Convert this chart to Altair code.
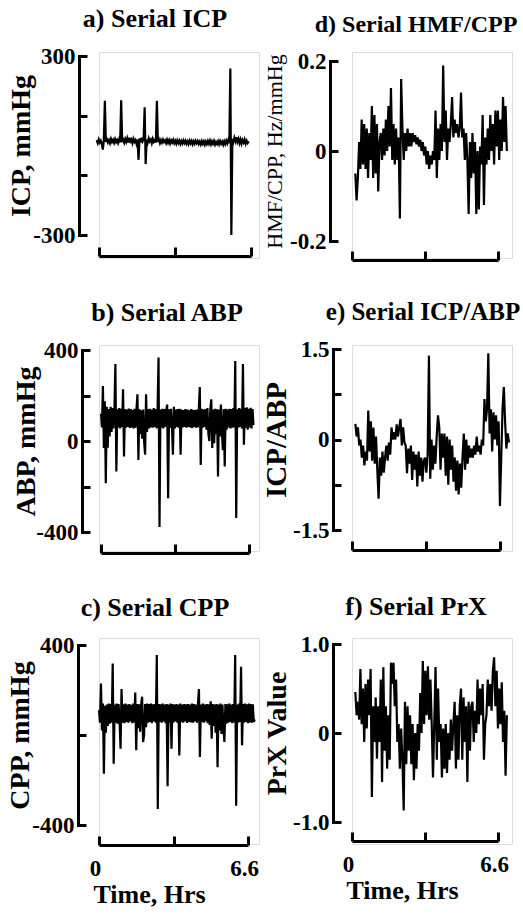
import altair as alt
import pandas as pd

# ---------------------------------------------------------------
# Recorded traces, one value per sample
# ---------------------------------------------------------------
icp_mmhg = [
    18, 8, 20, 10, 16, 6, -14, 18, 150, 12,
    20, 10, 18, 8, 22, 12, 19, 9, 21, 11,
    18, 8, 20, 10, 152, 12, 19, 9, 22, 12,
    24, 10, 26, 14, 20, 8, 22, 12, 18, 6,
    20, -48, 24, 10, 26, 14, 22, 128, -62, 20,
    10, 24, 14, 20, 8, 22, 12, 18, 10, 150,
    12, 20, 8, 18, 10, 20, 12, 17, 8, 19,
    9, 18, 7, 17, 10, 19, 8, 16, 6, 17,
    8, 16, 5, 15, 7, 17, 8, 16, 6, 14,
    5, 16, 7, 15, 4, 14, 6, 16, 8, 15,
    5, 13, 4, 15, 6, 14, 3, 13, 5, 15,
    6, 16, 4, 14, 6, 15, 3, 12, 5, 14,
    4, 15, 6, 13, 3, 14, 5, 16, 7, 18,
    8, 258, -300, 22, 12, 26, 14, 28, 12, 22,
    8, 20, 6, 18, 10, 20, 6, 16, 8, 14,
]

abp_mmhg = [
    120, 60, 242, -31, 175, -186, 150, -30, 140, 20,
    150, 40, 145, 55, 140, 338, -134, 140, 60, 145,
    55, 142, 62, 227, -68, 140, 58, 138, 62, 143,
    57, 140, 60, 136, 55, 142, 58, 140, 205, -83,
    140, 30, 135, 10, 138, -5, -60, 205, 40, 140,
    55, 142, 60, 138, 58, 145, 62, 140, 55, 140,
    367, -378, 138, 60, 142, 55, 140, 62, 136, 160,
    -252, 140, 58, 142, 60, -60, 150, 55, 138, 62,
    140, 58, 142, -60, 138, 60, 136, 62, 140, 58,
    138, 62, 135, 60, 140, 56, 137, 62, 136, 58,
    138, 60, 140, 237, -105, 142, 58, 138, 62, 140,
    50, 145, 30, 0, 140, 183, -31, 138, -10, 142,
    30, 140, -156, 138, 20, 160, 50, -40, 140, -112,
    142, 50, 138, 60, 142, 55, 140, 58, 145, 60,
    352, -338, 140, 58, 145, 62, 142, 55, 338, -16,
    145, 58, 148, 50, 142, 60, 146, 55, 140, 70,
]

cpp_mmhg = [
    110, 55, 229, 20, 140, -172, 130, 10, 135, 40,
    140, 50, 138, 55, 318, -128, 135, 55, 140, 50,
    138, 58, -61, 204, 55, 136, 52, 140, 58, 135,
    55, 138, 60, 134, 52, 140, 56, 189, -68, 138,
    30, 136, 15, 135, 170, -31, 0, 138, 35, 140,
    55, 137, 58, 140, 52, 136, 60, 138, 55, 355,
    -329, 138, 58, 136, 55, 140, 60, 135, 52, 138,
    -228, 136, 56, 140, -61, 138, 55, 135, 60, 138,
    55, 136, -91, 140, 58, 135, 55, 138, 60, 136,
    54, 138, 58, 135, 56, 140, 55, 137, 60, 135,
    55, 138, 204, -98, 136, 58, 140, 55, 135, 60,
    138, 52, 136, 45, 150, -16, 138, 40, 135, 10,
    138, -143, 136, 20, 140, 5, 135, 30, -31, 138,
    50, 136, 55, 140, 58, 135, 52, 138, 56, 355,
    -314, 136, 55, 140, 58, 303, -46, 138, 55, 140,
    58, 136, 52, 140, 56, 138, 55, 136, 58, 70,
]

hmf_cpp = [
    -0.05, -0.11, -0.06, 0.02, -0.04, 0.07, -0.03, 0.06, -0.04, 0.05,
    -0.06, 0.04, -0.02, 0.10, -0.06, 0.08, -0.05, 0.06, -0.09, 0.02,
    0.04, -0.02, 0.05, -0.01, 0.07, 0.00, 0.10, 0.01, 0.14, -0.02,
    0.06, -0.03, 0.05, -0.02, 0.03, -0.15, 0.16, 0.05, -0.02, 0.04,
    0.00, 0.05, 0.01, 0.04, 0.01, 0.04, 0.02, 0.035, 0.015, 0.03,
    0.01, 0.025, 0.00, 0.02, -0.01, 0.01, -0.03, 0.00, -0.04, -0.01,
    -0.03, 0.00, -0.02, 0.09, -0.06, 0.05, -0.02, 0.06, 0.00, 0.19,
    0.02, 0.09, -0.02, 0.05, 0.02, 0.06, 0.12, 0.03, 0.07, 0.04,
    0.06, 0.03, 0.05, 0.13, 0.03, 0.05, -0.02, 0.04, -0.02, -0.14,
    0.02, -0.06, 0.04, -0.05, 0.02, -0.14, 0.00, -0.13, 0.01, -0.03,
    0.08, -0.12, 0.03, -0.03, 0.05, -0.02, 0.08, 0.00, 0.06, -0.03,
    0.09, 0.01, 0.09, -0.02, 0.07, 0.00, 0.12, 0.02, 0.10, 0.00,
]

icp_abp = [
    0.26, 0.05, 0.20, -0.10, 0.00, -0.30, -0.10, -0.43, -0.20, -0.35,
    0.48, -0.20, 0.30, -0.35, 0.20, -0.40, 0.05, -0.50, -0.98, -0.30,
    -0.60, -0.20, -0.55, -0.30, -0.10, -0.35, -0.05, -0.25, 0.20, 0.00,
    0.12, 0.00, 0.25, 0.05, 0.20, 0.34, -0.10, 0.20, -0.05, -0.10,
    -0.56, -0.15, -0.40, -0.10, -0.67, -0.20, -0.50, -0.25, -0.78, -0.20,
    -0.60, -0.30, -0.70, -0.35, -0.30, -0.55, -0.25, 1.39, -0.65, 0.00,
    -0.50, -0.10, -0.40, 0.05, 0.40, 0.20, -0.50, 0.10, -0.30, 0.10,
    -0.60, 0.05, -0.75, 0.00, -0.50, -0.10, -0.70, -0.30, -0.85, -0.35,
    -0.91, -0.40, -0.80, -0.30, 0.10, -0.50, 0.00, -0.40, -0.10, -0.30,
    -0.15, -0.30, -0.10, -0.25, 0.05, -0.20, -0.10, -0.25, 0.00, -0.10,
    0.67, 0.30, 0.50, 1.43, 0.10, 0.50, -0.20, 0.45, 0.00, 0.40,
    -0.10, 0.30, -1.10, -0.30, 0.50, 0.87, 0.30, -0.15, 0.10, -0.05,
]

prx = [
    0.46, 0.20, 0.35, 0.15, 0.72, 0.10, 0.50, -0.10, 0.55, 0.05,
    0.60, 0.20, 0.72, -0.72, 0.30, -0.10, 0.40, -0.29, 0.30, -0.10,
    0.60, -0.55, 0.74, -0.20, 0.30, -0.40, 0.20, -0.30, 0.79, 0.55,
    0.79, 0.30, 0.60, -0.10, 0.10, -0.40, 0.05, -0.30, -0.87, 0.35,
    -0.35, 0.30, -0.20, 0.20, -0.35, 0.10, -0.53, 0.00, -0.40, 0.10,
    -0.20, 0.45, 0.00, 0.81, 0.10, 0.70, 0.20, 0.75, 0.15, 0.60,
    0.10, -0.50, 0.10, 0.74, -0.30, 0.50, -0.10, 0.10, -0.50, 0.05,
    -0.40, 0.10, -0.45, 0.00, -0.30, 0.15, -0.20, 0.10, 0.35, -0.40,
    0.20, -0.30, 0.30, 0.50, -0.30, 0.40, -0.10, 0.30, -0.55, 0.35,
    -0.20, 0.30, 0.35, -0.10, 0.25, 0.00, 0.60, 0.10, 0.50, 0.20,
    0.55, -0.30, 0.10, 0.20, 0.60, 0.30, 0.55, 0.25, 0.70, 0.85,
    0.30, 0.70, 0.05, 0.50, 0.10, 0.57, -0.10, 0.25, -0.48, 0.20,
]

# Recording window of each trace (hours): first and last sample
windows = {
    "icp": (-0.1, 6.5),
    "abp": (0.0, 6.8),
    "cpp": (0.0, 6.9),
    "hmf": (0.15, 7.0),
    "ratio": (0.15, 7.0),
    "prx": (0.15, 7.0),
}

x_ticks = [0, 3.3, 6.6]
x_tick_text = ["0", "", "6.6"]

FONT = "Liberation Serif"
CELL_W, CELL_H = 160, 206


def label_expr(values, texts):
    expr = "''"
    for v, t in zip(reversed(values), reversed(texts)):
        expr = f"datum.value == {v} ? '{t}' : ({expr})"
    return expr


def frame(values, window):
    t0, t1 = window
    n = len(values)
    return pd.DataFrame(
        {"t": [t0 + (t1 - t0) * i / (n - 1) for i in range(n)], "v": values}
    )


def panel(values, window, title, title_dx, y_title, y_domain, y_ticks,
          y_text, y_range, x_range, y_off, x_off, bottom, y_title_x,
          y_title_weight="bold", y_title_size=28, title_size=26):
    x_scale = alt.Scale(domain=[0, 6.6], range=x_range, nice=False, zero=False)
    y_scale = alt.Scale(domain=y_domain, range=y_range, nice=False, zero=False)

    x_axis = alt.Axis(
        values=x_ticks,
        labelExpr=label_expr(x_ticks, x_tick_text if bottom else ["", "", ""]),
        title="Time, Hrs" if bottom else None,
        titleFont=FONT, titleFontSize=26, titleFontWeight="bold",
        titleColor="black", titleX=x_range[0] + 50, titleY=36,
        titleAnchor="middle", titleBaseline="top",
        labelFont=FONT, labelFontSize=23, labelFontWeight="bold",
        labelColor="black", labelPadding=21, labelFlush=False,
        labelOverlap=False, labelOffset=-4,
        domain=True, domainColor="black", domainWidth=3,
        ticks=True, tickColor="black", tickWidth=3, tickSize={"expr": "-9"},
        grid=False, offset=x_off,
    )
    # the y axis sits to the left of the plotting cell, ticks pointing inward
    y_axis = alt.Axis(
        values=y_ticks,
        labelExpr=label_expr(y_ticks, y_text),
        title=y_title,
        titleFont=FONT, titleFontSize=y_title_size, titleFontWeight=y_title_weight,
        titleColor="black", titleX=y_title_x, titleAnchor="middle",
        labelFont=FONT, labelFontSize=23, labelFontWeight="bold",
        labelColor="black", labelPadding=12, labelOverlap=False, labelFlush=False,
        domain=True, domainColor="black", domainWidth=3, domainCap="square",
        ticks=True, tickColor="black", tickWidth=3, tickSize={"expr": "-8"},
        grid=False, offset=y_off,
    )

    return (
        alt.Chart(frame(values, window))
        .mark_line(color="black", strokeWidth=2.2)
        .encode(
            x=alt.X("t:Q", axis=x_axis, scale=x_scale),
            y=alt.Y("v:Q", axis=y_axis, scale=y_scale),
        )
        .properties(
            width=CELL_W,
            height=CELL_H,
            title=alt.TitleParams(
                title, font=FONT, fontSize=title_size, fontWeight="bold",
                color="black", anchor="middle", frame="group", dx=title_dx,
                offset=13,
            ),
        )
    )


a = panel(icp_mmhg, windows["icp"], "a) Serial ICP", -24, "ICP, mmHg",
          [-300, 300], [-300, -100, 100, 300], ["-300", "", "", "300"],
          [183, 4], [0, 152], 20, -2, False, -44)
d = panel(hmf_cpp, windows["hmf"], "d) Serial HMF/CPP", -16, "HMF/CPP, Hz/mmHg",
          [-0.2, 0.2], [-0.2, 0, 0.2], ["-0.2", "0", "0.2"],
          [189, 9], [0, 146], 22, 2, False, -44,
          y_title_weight="normal", y_title_size=22, title_size=24)
b = panel(abp_mmhg, windows["abp"], "b) Serial ABP", -12, "ABP, mmHg",
          [-400, 400], [-400, -200, 0, 200, 400], ["-400", "", "0", "", "400"],
          [187, 5], [2, 150], 17, 2, False, -42)
e = panel(icp_abp, windows["ratio"], "e) Serial ICP/ABP", -9, "ICP/ABP",
          [-1.5, 1.5], [-1.5, -0.75, 0, 0.75, 1.5], ["-1.5", "", "0", "", "1.5"],
          [185, 4], [0, 148], 19, -1, False, -42, y_title_size=29, title_size=25)
c = panel(cpp_mmhg, windows["cpp"], "c) Serial CPP", -24, "CPP, mmHg",
          [-400, 400], [-400, 0, 400], ["-400", "", "400"],
          [187, 7], [0, 149], 21, 1, True, -44)
f = panel(prx, windows["prx"], "f) Serial PrX", -16, "PrX Value",
          [-1, 1], [-1, 0, 1], ["-1.0", "0", "1.0"],
          [184, 6], [0, 146], 19, -3, True, -42)

chart = (
    alt.concat(a, d, b, e, c, f, columns=2,
               spacing={"row": 87, "column": 93}, bounds="flush")
    .configure_view(strokeWidth=0)
    .configure(background="white", padding={"left": 5, "top": 5, "right": 0, "bottom": 0})
)

chart.save("out.html", embed_options={"renderer": "svg", "actions": False})
